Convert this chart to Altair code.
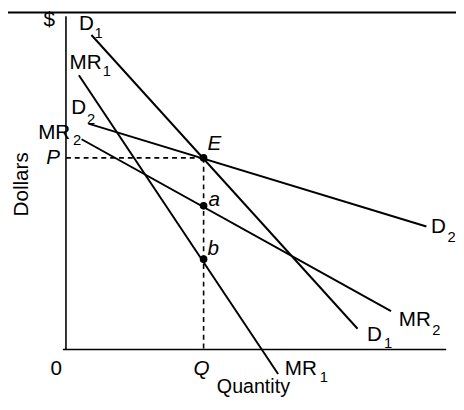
import altair as alt
import pandas as pd

# ---- curves (endpoints, data units 0..100) ----
curve_name = ["D1", "D1", "MR1", "MR1", "D2", "D2", "MR2", "MR2"]
curve_x = [6.7, 76.7, 3.4, 55.8, 5.9, 94.8, 4.1, 85.5]
curve_y = [94.4, 6.2, 82.3, -7.4, 67.8, 36.9, 63.1, 11.5]

# ---- equilibrium point and points a, b ----
Q_val = 36.2
P_val = 57.5
pt_name = ["E", "a", "b"]
pt_x = [36.2, 36.2, 36.2]
pt_y = [57.5, 43.1, 27.1]

# ---- labels (main text) ----
main_text = ["D", "MR", "D", "MR", "D", "MR", "D", "MR", "$", "0"]
main_x = [5.4, 5.17, 3.36, -3.10, 98.0, 91.73, 81.14, 61.76, -4.39, -2.58]
main_y = [97.6, 85.84, 72.57, 64.90, 36.58, 8.85, 4.42, -5.90, 98.9, -5.90]

# ---- subscripts ----
sub_text = ["1", "1", "2", "2", "2", "2", "1", "1"]
sub_x = [8.6, 10.75, 6.6, 2.95, 101.4, 97.4, 84.7, 67.8]
sub_y = [94.9, 83.5, 69.2, 62.9, 33.7, 5.7, 1.9, -8.4]

# ---- italic labels ----
ital_text = ["P", "E", "a", "b", "Q"]
ital_x = [-3.36, 39.02, 39.02, 38.76, 35.66]
ital_y = [57.52, 61.65, 44.84, 30.09, -5.90]

# ---- axis titles ----
xtitle = "Quantity"
xtitle_pos = (49.3, -11.3)
ytitle = "Dollars"
ytitle_pos = (-11.6, 49.56)

FONT = "Liberation Sans"
xs = alt.Scale(domain=[0, 100], nice=False, zero=False)
ys = alt.Scale(domain=[0, 100], nice=False, zero=False)
X = lambda f: alt.X(f, type="quantitative", scale=xs, axis=None)
Y = lambda f: alt.Y(f, type="quantitative", scale=ys, axis=None)

curves = pd.DataFrame({"name": curve_name, "x": curve_x, "y": curve_y})
points = pd.DataFrame({"name": pt_name, "x": pt_x, "y": pt_y})
dash = pd.DataFrame({"x": [0, Q_val], "x2": [Q_val, Q_val],
                     "y": [P_val, P_val], "y2": [P_val, 0]})
mains = pd.DataFrame({"t": main_text, "x": main_x, "y": main_y})
subs = pd.DataFrame({"t": sub_text, "x": sub_x, "y": sub_y})
itals = pd.DataFrame({"t": ital_text, "x": ital_x, "y": ital_y})
xt = pd.DataFrame({"t": [xtitle], "x": [xtitle_pos[0]], "y": [xtitle_pos[1]]})
yt = pd.DataFrame({"t": [ytitle], "x": [ytitle_pos[0]], "y": [ytitle_pos[1]]})
axes_df = pd.DataFrame({"x": [0, -0.8], "x2": [0, 100], "y": [0, 0], "y2": [100, 0]})

axes_layer = alt.Chart(axes_df).mark_rule(color="black", strokeWidth=1.6).encode(
    x=X("x"), x2="x2", y=Y("y"), y2="y2")

border = alt.Chart(pd.DataFrame({"k": [0]})).mark_rule(color="black", strokeWidth=2).encode(
    x=alt.value(-59), x2=alt.value(397), y=alt.value(-4))

lines = alt.Chart(curves).mark_line(color="black", strokeWidth=2).encode(
    x=X("x"), y=Y("y"), detail="name")

dashes = alt.Chart(dash).mark_rule(color="black", strokeWidth=1.6, strokeDash=[5, 4]).encode(
    x=X("x"), x2="x2", y=Y("y"), y2="y2")

dots = alt.Chart(points).mark_circle(color="black", opacity=1, size=60).encode(
    x=X("x"), y=Y("y"))

t_main = alt.Chart(mains).mark_text(font=FONT, fontSize=21, color="black",
                                    align="center", baseline="middle").encode(
    x=X("x"), y=Y("y"), text="t")
t_sub = alt.Chart(subs).mark_text(font=FONT, fontSize=15, color="black",
                                  align="center", baseline="middle").encode(
    x=X("x"), y=Y("y"), text="t")
t_ital = alt.Chart(itals).mark_text(font=FONT, fontSize=21, fontStyle="italic", color="black",
                                    align="center", baseline="middle").encode(
    x=X("x"), y=Y("y"), text="t")
t_x = alt.Chart(xt).mark_text(font=FONT, fontSize=20, color="black",
                              align="center", baseline="middle").encode(
    x=X("x"), y=Y("y"), text="t")
t_y = alt.Chart(yt).mark_text(font=FONT, fontSize=21, color="black", angle=270,
                              align="center", baseline="middle").encode(
    x=X("x"), y=Y("y"), text="t")

chart = alt.layer(border, axes_layer, dashes, lines, dots, t_main, t_sub, t_ital, t_x, t_y).properties(
    width=387, height=339,
    autosize=alt.AutoSizeParams(type="none"),
    padding={"left": 59, "top": 5, "right": 10, "bottom": 49},
).configure_view(stroke=None)

chart.save("out.html", embed_options={"renderer": "svg", "actions": False})
